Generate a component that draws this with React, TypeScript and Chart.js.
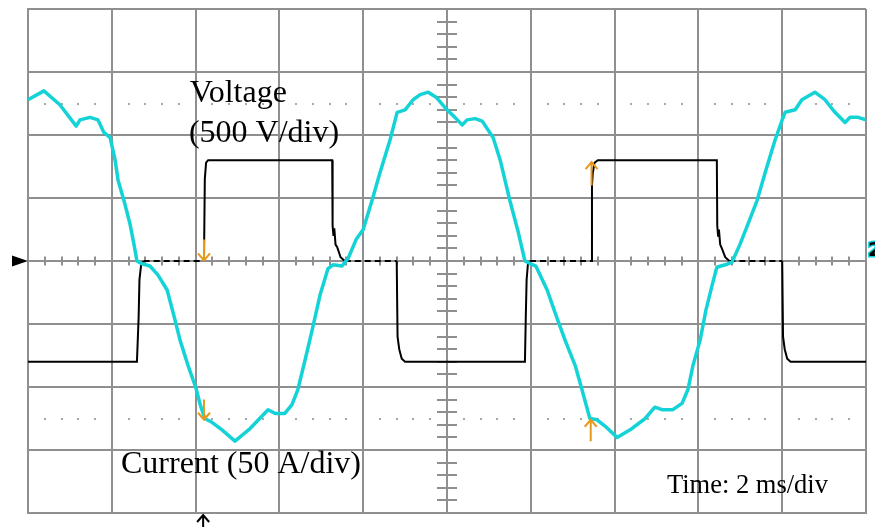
import { useEffect, useRef } from 'react';
import { Chart, registerables } from 'chart.js';

Chart.register(...registerables);

// Screen: 10 horizontal divisions at 2 ms/div, 8 vertical divisions
const TIME_MIN = 0;
const TIME_MAX = 20;
const TIME_STEP = 2;
const VOLT_LIMIT = 2000; // 500 V/div
const VOLT_STEP = 500;
const AMP_LIMIT = 200; // 50 A/div

// Inverter output voltage (ms, V)
const voltageTimes = [
  0, 2.6, 2.64, 2.66, 2.7, 2.76, 4.2, 4.22, 4.25, 4.3,
  7.26, 7.27, 7.29, 7.31, 7.34, 7.38, 7.46, 7.56, 8.8, 8.82,
  8.86, 8.92, 9.0, 11.86, 11.88, 11.9, 11.93, 11.98, 13.44, 13.46,
  13.48, 13.52, 13.6, 16.44, 16.45, 16.47, 16.49, 16.52, 16.56, 16.64,
  16.74, 18.0, 18.02, 18.06, 18.12, 18.2, 20,
];
const voltageValues = [
  -800, -800, -450, -150, -30, 0, 0, 650, 780, 800,
  800, 280, 200, 260, 130, 110, 30, 0, 0, -600,
  -700, -775, -800, -800, -450, -150, -30, 0, 0, 600,
  700, 780, 800, 800, 280, 200, 250, 130, 100, 30,
  0, 0, -600, -700, -775, -800, -800,
];

// Load current (ms, A)
const currentTimes = [
  0, 0.38, 0.76, 1.15, 1.24, 1.48, 1.67, 1.81, 1.96, 2.08,
  2.15, 2.29, 2.43, 2.53, 2.6, 2.7, 2.91, 3.1, 3.32, 3.48,
  3.63, 3.82, 4.01, 4.11, 4.22, 4.39, 4.63, 4.94, 5.3, 5.73,
  5.9, 6.13, 6.3, 6.44, 6.61, 6.78, 6.97, 7.16, 7.28, 7.49,
  7.64, 7.83, 8.0, 8.21, 8.4, 8.64, 8.81, 9.0, 9.19, 9.36,
  9.55, 9.74, 10.0, 10.19, 10.36, 10.48, 10.67, 10.84, 11.1, 11.27,
  11.5, 11.7, 11.86, 11.98, 12.12, 12.39, 12.6, 12.82, 13.06, 13.22,
  13.41, 13.58, 13.77, 14.06, 14.37, 14.73, 14.96, 15.13, 15.39, 15.61,
  15.75, 15.87, 16.04, 16.18, 16.33, 16.44, 16.64, 16.8, 16.99, 17.18,
  17.4, 17.61, 17.83, 18.0, 18.07, 18.31, 18.47, 18.78, 19.02, 19.26,
  19.5, 19.62, 19.81, 20,
];
const currentValues = [
  128, 135, 124, 107, 112, 114, 112, 102, 98, 80,
  64, 48, 30, 13, 0, -2, -4, -11, -23, -43,
  -63, -83, -101, -114, -125, -128, -134, -143, -133, -118,
  -121, -121, -114, -102, -79, -55, -27, -6, -3, -4,
  2, 17, 25, 48, 70, 96, 118, 120, 128, 132,
  134, 130, 120, 114, 108, 112, 113, 111, 98, 80,
  48, 23, 0, -2, -4, -23, -43, -63, -83, -102,
  -125, -126, -131, -140, -134, -125, -116, -118, -118, -113,
  -102, -83, -63, -39, -19, -5, -3, -1, 13, 29,
  48, 72, 96, 112, 118, 120, 128, 134, 128, 118,
  110, 114, 114, 112,
];

// Cursor arrows: time, start value and tip value
const voltageCursorTimes = [4.2, 13.45];
const voltageCursorFrom = [170, 600];
const voltageCursorTo = [5, 785];
const currentCursorTimes = [4.2, 13.43];
const currentCursorFrom = [-110, -143];
const currentCursorTo = [-126, -126];
const TRIGGER_TIME = 4.18;

const GRID_COLOR = '#8f8f8f';
const DOT_COLOR = '#a8a8a8';
const CURSOR_COLOR = '#e8991c';
const TRACE_CYAN = '#14d3d7';
const SERIF = '"Liberation Serif", "Times New Roman", serif';

function arrow(ctx: CanvasRenderingContext2D, x: number, y0: number, y1: number, color: string) {
  const dir = y1 > y0 ? 1 : -1;
  ctx.save();
  ctx.strokeStyle = color;
  ctx.lineWidth = 2;
  ctx.beginPath();
  ctx.moveTo(x, y0);
  ctx.lineTo(x, y1);
  ctx.moveTo(x - 6, y1 - dir * 7);
  ctx.lineTo(x, y1);
  ctx.lineTo(x + 6, y1 - dir * 7);
  ctx.stroke();
  ctx.restore();
}

const scopeOverlay = {
  id: 'scopeOverlay',
  beforeDatasetsDraw(chart: any) {
    const { ctx } = chart;
    const xs = chart.scales.x;
    const ys = chart.scales.y;
    const minor = TIME_STEP / 5;
    const y0 = ys.getPixelForValue(0);
    const xc = xs.getPixelForValue((TIME_MIN + TIME_MAX) / 2);
    ctx.save();
    // dotted reference rows at +/- 2.5 div
    ctx.fillStyle = DOT_COLOR;
    [2.5 * VOLT_STEP, -2.5 * VOLT_STEP].forEach((v) => {
      const py = ys.getPixelForValue(v);
      for (let k = 1; k < (TIME_MAX - TIME_MIN) / minor; k++) {
        if (k % 5 === 0) continue;
        const px = xs.getPixelForValue(TIME_MIN + k * minor);
        ctx.fillRect(Math.round(px) - 1, Math.round(py) - 1, 2, 2);
      }
    });
    // minor ticks on the centre axes
    ctx.strokeStyle = GRID_COLOR;
    ctx.lineWidth = 2;
    ctx.beginPath();
    for (let k = 1; k < (TIME_MAX - TIME_MIN) / minor; k++) {
      if (k % 5 === 0) continue;
      const px = Math.round(xs.getPixelForValue(TIME_MIN + k * minor));
      ctx.moveTo(px, y0 - 4.5);
      ctx.lineTo(px, y0 + 4.5);
    }
    const vMinor = VOLT_STEP / 5;
    for (let k = -19; k <= 19; k++) {
      if (k % 5 === 0) continue;
      const py = Math.round(ys.getPixelForValue(k * vMinor));
      ctx.moveTo(xc - 10, py);
      ctx.lineTo(xc + 10, py);
    }
    ctx.stroke();
    ctx.restore();
  },
  afterDatasetsDraw(chart: any) {
    const { ctx, chartArea } = chart;
    const xs = chart.scales.x;
    const ys = chart.scales.y;
    const yi = chart.scales.yI;
    const y0 = ys.getPixelForValue(0);

    voltageCursorTimes.forEach((t, i) => {
      arrow(ctx, xs.getPixelForValue(t), ys.getPixelForValue(voltageCursorFrom[i]), ys.getPixelForValue(voltageCursorTo[i]), CURSOR_COLOR);
    });
    currentCursorTimes.forEach((t, i) => {
      arrow(ctx, xs.getPixelForValue(t), yi.getPixelForValue(currentCursorFrom[i]), yi.getPixelForValue(currentCursorTo[i]), CURSOR_COLOR);
    });

    ctx.save();
    // trigger position marker under the screen
    const tx = xs.getPixelForValue(TRIGGER_TIME);
    arrow(ctx, tx, chartArea.bottom + 14, chartArea.bottom + 2, '#000');

    // ground-level marker on the left edge
    ctx.fillStyle = '#000';
    ctx.beginPath();
    ctx.moveTo(chartArea.left, y0);
    ctx.lineTo(chartArea.left - 16, y0 - 5.5);
    ctx.lineTo(chartArea.left - 16, y0 + 5.5);
    ctx.closePath();
    ctx.fill();

    // channel 2 marker on the right edge
    ctx.font = 'bold 20px "DejaVu Sans", sans-serif';
    ctx.textBaseline = 'alphabetic';
    ctx.lineWidth = 3;
    ctx.strokeStyle = TRACE_CYAN;
    ctx.strokeText('2', chartArea.right + 2, y0 - 5);
    ctx.fillStyle = '#000';
    ctx.fillText('2', chartArea.right + 2, y0 - 5);

    // annotations
    ctx.fillStyle = '#000';
    ctx.textAlign = 'left';
    ctx.font = `32px ${SERIF}`;
    ctx.fillText('Voltage', xs.getPixelForValue(3.86), ys.getPixelForValue(1262));
    ctx.fillText('(500 V/div)', xs.getPixelForValue(3.84), ys.getPixelForValue(944));
    ctx.fillText('Current (50 A/div)', xs.getPixelForValue(2.22), yi.getPixelForValue(-168));
    ctx.font = `26.5px ${SERIF}`;
    ctx.fillText('Time: 2 ms/div', xs.getPixelForValue(15.25), ys.getPixelForValue(-1841));
    ctx.restore();
  },
};

export default function App() {
  const canvasRef = useRef<HTMLCanvasElement | null>(null);

  useEffect(() => {
    const canvas = canvasRef.current;
    if (!canvas) return;
    const voltage = voltageTimes.map((t, i) => ({ x: t, y: voltageValues[i] }));
    const current = currentTimes.map((t, i) => ({ x: t, y: currentValues[i] }));

    const chart = new Chart(canvas, {
      type: 'line',
      data: {
        datasets: [
          {
            label: 'Current',
            data: current,
            yAxisID: 'yI',
            borderColor: TRACE_CYAN,
            borderWidth: 3.5,
            pointRadius: 0,
            tension: 0,
            borderJoinStyle: 'round',
          },
          {
            label: 'Voltage',
            data: voltage,
            yAxisID: 'y',
            borderColor: '#000',
            borderWidth: 2,
            pointRadius: 0,
            tension: 0,
            segment: {
              borderDash: (c: any) => (c.p0.parsed.y === 0 && c.p1.parsed.y === 0 ? [6, 4] : undefined),
            },
          },
        ],
      },
      options: {
        animation: false,
        responsive: false,
        devicePixelRatio: 1,
        layout: { padding: { left: 28, right: 9, top: 9, bottom: 14 } },
        plugins: { legend: { display: false }, tooltip: { enabled: false } },
        scales: {
          x: {
            type: 'linear',
            min: TIME_MIN,
            max: TIME_MAX,
            ticks: { display: false, stepSize: TIME_STEP },
            grid: { color: GRID_COLOR, lineWidth: 2, drawTicks: false },
            border: { display: true, color: GRID_COLOR, width: 2 },
          },
          y: {
            type: 'linear',
            min: -VOLT_LIMIT,
            max: VOLT_LIMIT,
            ticks: { display: false, stepSize: VOLT_STEP },
            grid: { color: GRID_COLOR, lineWidth: 2, drawTicks: false },
            border: { display: true, color: GRID_COLOR, width: 2 },
          },
          yI: {
            type: 'linear',
            display: false,
            min: -AMP_LIMIT,
            max: AMP_LIMIT,
          },
        },
      },
      plugins: [scopeOverlay],
    });
    return () => chart.destroy();
  }, []);

  return (
    <div style={{ position: 'fixed', left: 0, top: 0, width: 875, height: 527, background: '#fff' }}>
      <canvas ref={canvasRef} width={875} height={527} />
    </div>
  );
}
